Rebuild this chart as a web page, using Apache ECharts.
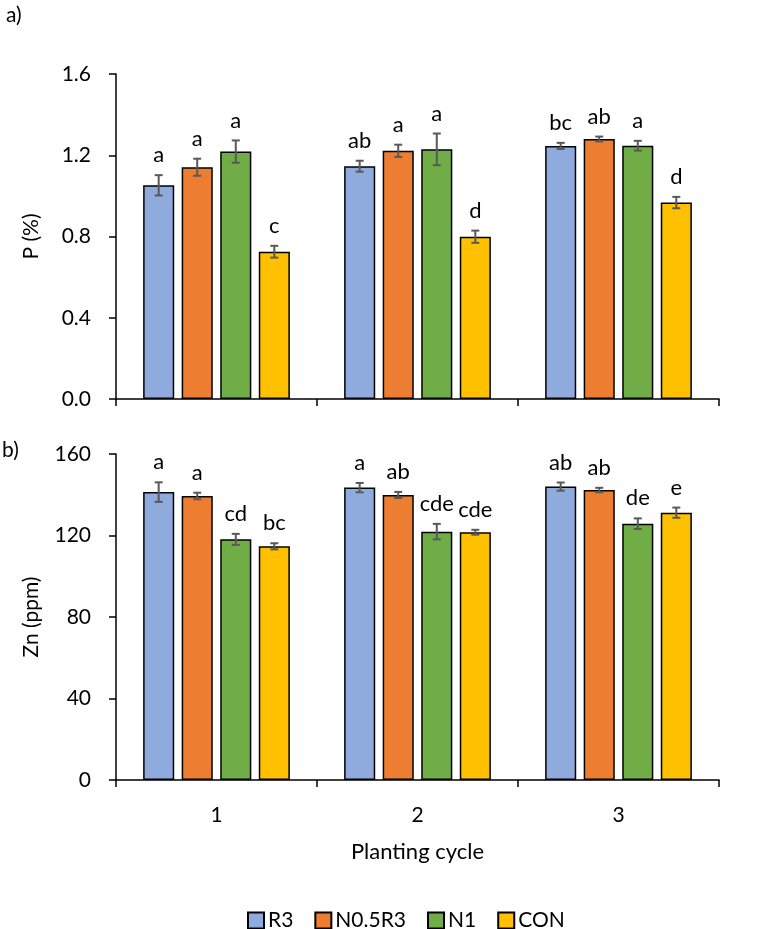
<!DOCTYPE html>
<html>
<head>
<meta charset="utf-8">
<script src="https://cdn.jsdelivr.net/npm/echarts@6/dist/echarts.min.js"></script>
<style>
  html, body { margin: 0; padding: 0; background: #fff; }
  #chart { width: 762px; height: 929px; }
</style>
</head>
<body>
<div id="chart"></div>
<script>
// ---- Data ----
const cycles = ['1', '2', '3'];
const treatments = ['R3', 'N0.5R3', 'N1', 'CON'];

// P (%)
const pR3 = [1.052, 1.146, 1.246];
const pN05R3 = [1.141, 1.222, 1.280];
const pN1 = [1.218, 1.229, 1.247];
const pCON = [0.725, 0.799, 0.967];
const pR3Err = [0.050, 0.027, 0.015];
const pN05R3Err = [0.042, 0.030, 0.012];
const pN1Err = [0.055, 0.078, 0.024];
const pCONErr = [0.029, 0.030, 0.028];
const pR3Lbl = ['a', 'ab', 'bc'];
const pN05R3Lbl = ['a', 'a', 'ab'];
const pN1Lbl = ['a', 'a', 'a'];
const pCONLbl = ['c', 'd', 'd'];

// Zn (ppm)
const znR3 = [141.3, 143.5, 144.0];
const znN05R3 = [139.4, 139.9, 142.3];
const znN1 = [118.1, 121.9, 125.8];
const znCON = [114.7, 121.6, 131.2];
const znR3Err = [4.8, 2.3, 2.0];
const znN05R3Err = [1.6, 1.5, 1.1];
const znN1Err = [2.7, 3.8, 2.6];
const znCONErr = [1.5, 1.2, 2.5];
const znR3Lbl = ['a', 'a', 'ab'];
const znN05R3Lbl = ['a', 'ab', 'ab'];
const znN1Lbl = ['cd', 'cde', 'de'];
const znCONLbl = ['bc', 'cde', 'e'];

// Tick labels
const pTicks = [0, 0.4, 0.8, 1.2, 1.6];
const znTicks = [0, 40, 80, 120, 160];

// ---- Styles ----
const colors = ['#8FAADC', '#ED7D31', '#70AD47', '#FFC000'];
const FONT = 'Lato';
const CAT_GAP = 0.27, BAR_GAP = 0.24;
const nSeries = treatments.length;

const pMeans = [pR3, pN05R3, pN1, pCON];
const pErrs = [pR3Err, pN05R3Err, pN1Err, pCONErr];
const pLbls = [pR3Lbl, pN05R3Lbl, pN1Lbl, pCONLbl];
const znMeans = [znR3, znN05R3, znN1, znCON];
const znErrs = [znR3Err, znN05R3Err, znN1Err, znCONErr];
const znLbls = [znR3Lbl, znN05R3Lbl, znN1Lbl, znCONLbl];

function buildErr(means, errs, lbls) {
  const data = [], labels = [];
  for (let s = 0; s < means.length; s++) {
    for (let c = 0; c < cycles.length; c++) {
      data.push([c, s, means[s][c], errs[s][c]]);
      labels.push(lbls[s][c]);
    }
  }
  return { data, labels };
}

function makeRender(labels) {
  return function (params, api) {
    const cat = api.value(0), si = api.value(1), mean = api.value(2), err = api.value(3);
    const band = api.size([1, 0])[0];
    const avail = band * (1 - CAT_GAP);
    const w = avail / (nSeries + (nSeries - 1) * BAR_GAP);
    const cx = api.coord([cat, 0])[0] - avail / 2 + w / 2 + si * w * (1 + BAR_GAP);
    const yTop = api.coord([cat, mean + err])[1];
    const yBot = api.coord([cat, mean - err])[1];
    const cap = 4;
    const ls = { stroke: '#595959', lineWidth: 2 };
    return {
      type: 'group',
      children: [
        { type: 'line', shape: { x1: cx, y1: yTop, x2: cx, y2: yBot }, style: ls },
        { type: 'line', shape: { x1: cx - cap, y1: yTop, x2: cx + cap, y2: yTop }, style: ls },
        { type: 'line', shape: { x1: cx - cap, y1: yBot, x2: cx + cap, y2: yBot }, style: ls },
        { type: 'text', style: {
            text: labels[params.dataIndex], x: cx, y: yTop - 9,
            align: 'center', verticalAlign: 'bottom',
            fontSize: 22, fontFamily: FONT, fill: '#000'
        } }
      ]
    };
  };
}

const pErrData = buildErr(pMeans, pErrs, pLbls);
const znErrData = buildErr(znMeans, znErrs, znLbls);

const axisLineStyle = { color: '#000', width: 1.5 };

function yAxisCfg(idx, ticks, name, nameGap, decimals) {
  return {
    type: 'value', gridIndex: idx,
    min: ticks[0], max: ticks[ticks.length - 1], interval: ticks[1] - ticks[0],
    name: name, nameLocation: 'middle', nameGap: nameGap,
    nameTextStyle: { fontSize: 21, fontFamily: FONT, color: '#000' },
    axisLine: { show: true, lineStyle: axisLineStyle },
    axisTick: { show: true, length: 7, lineStyle: axisLineStyle },
    axisLabel: { fontSize: 21, fontFamily: FONT, color: '#000', margin: 25,
      formatter: v => v.toFixed(decimals) },
    splitLine: { show: false }
  };
}

function xAxisCfg(idx, showLabels) {
  return {
    type: 'category', gridIndex: idx, data: cycles,
    axisLine: { show: true, lineStyle: axisLineStyle },
    axisTick: { show: true, length: 7, lineStyle: axisLineStyle },
    axisLabel: { show: showLabels, fontSize: 21, fontFamily: FONT, color: '#000', margin: 25 },
    name: showLabels ? 'Planting cycle' : '',
    nameLocation: 'middle', nameGap: 61,
    nameTextStyle: { fontSize: 22, fontFamily: FONT, color: '#000' }
  };
}

const series = [];
treatments.forEach((t, i) => {
  series.push({
    name: t, type: 'bar', xAxisIndex: 0, yAxisIndex: 0, data: pMeans[i],
    barGap: (BAR_GAP * 100) + '%', barCategoryGap: (CAT_GAP * 100) + '%',
    itemStyle: { color: colors[i], borderColor: '#000', borderWidth: 1.5 },
    emphasis: { disabled: true }
  });
});
treatments.forEach((t, i) => {
  series.push({
    name: t, type: 'bar', xAxisIndex: 1, yAxisIndex: 1, data: znMeans[i],
    barGap: (BAR_GAP * 100) + '%', barCategoryGap: (CAT_GAP * 100) + '%',
    itemStyle: { color: colors[i], borderColor: '#000', borderWidth: 1.5 },
    emphasis: { disabled: true }
  });
});
series.push({
  type: 'custom', xAxisIndex: 0, yAxisIndex: 0, data: pErrData.data,
  renderItem: makeRender(pErrData.labels), z: 10, silent: true
});
series.push({
  type: 'custom', xAxisIndex: 1, yAxisIndex: 1, data: znErrData.data,
  renderItem: makeRender(znErrData.labels), z: 10, silent: true
});

const chart = echarts.init(document.getElementById('chart'), null, { renderer: 'canvas' });
chart.setOption({
  animation: false,
  backgroundColor: '#fff',
  textStyle: { fontFamily: FONT },
  grid: [
    { left: 116, right: 43, top: 74, height: 325 },
    { left: 116, right: 43, top: 454, height: 326 }
  ],
  xAxis: [xAxisCfg(0, false), xAxisCfg(1, true)],
  yAxis: [
    yAxisCfg(0, pTicks, 'P (%)', 74, 1),
    yAxisCfg(1, znTicks, 'Zn (ppm)', 74, 0)
  ],
  legend: {
    data: treatments, left: 242, top: 905,
    itemWidth: 16, itemHeight: 16, itemGap: 21, icon: 'rect',
    textStyle: { fontSize: 21, fontFamily: FONT, color: '#000', padding: [0, 0, 0, -1] }
  },
  graphic: [
    { type: 'text', left: 6, top: 5, style: { text: 'a)', fontSize: 21, fontFamily: FONT, fill: '#000' } },
    { type: 'text', left: 2, top: 440, style: { text: 'b)', fontSize: 21, fontFamily: FONT, fill: '#000' } }
  ],
  series: series
});
</script>
</body>
</html>
